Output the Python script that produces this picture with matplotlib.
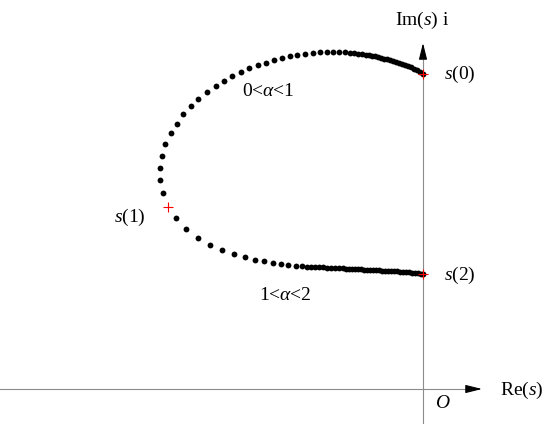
import matplotlib
matplotlib.use("Agg")
import matplotlib.pyplot as plt

plt.rcParams["font.family"] = ["Liberation Serif", "DejaVu Serif"]
plt.rcParams["mathtext.fontset"] = "custom"
plt.rcParams["mathtext.rm"] = "Liberation Serif"
plt.rcParams["mathtext.it"] = "Liberation Serif:italic"

# root locus, branch 0<alpha<1 (from s(0) towards s(1))
upper_re = [0.00, -0.03, -0.06, -0.09, -0.12, -0.15, -0.18, -0.21, -0.24, -0.27,
            -0.30, -0.33, -0.36, -0.39, -0.42, -0.45, -0.48, -0.51, -0.54, -0.57,
            -0.61, -0.65, -0.69, -0.73, -0.78, -0.84, -0.90, -0.96, -1.03, -1.105,
            -1.18, -1.26, -1.335, -1.41, -1.49, -1.573, -1.653, -1.737, -1.823, -1.907,
            -1.99, -2.067, -2.163, -2.247, -2.32, -2.403, -2.463, -2.523, -2.577, -2.61,
            -2.63, -2.63, -2.60]
upper_im = [3.155, 3.175, 3.19, 3.205, 3.22, 3.23, 3.24, 3.25, 3.26, 3.27,
            3.28, 3.29, 3.30, 3.305, 3.315, 3.32, 3.33, 3.335, 3.34, 3.345,
            3.35, 3.355, 3.36, 3.365, 3.37, 3.372, 3.372, 3.372, 3.37, 3.362,
            3.355, 3.34, 3.33, 3.315, 3.295, 3.265, 3.245, 3.207, 3.167, 3.133,
            3.083, 3.03, 2.973, 2.90, 2.83, 2.747, 2.653, 2.56, 2.45, 2.333,
            2.21, 2.09, 1.963]

# branch 1<alpha<2 (from s(1) towards s(2))
lower_re = [-2.467, -2.37, -2.247, -2.133, -2.01, -1.893, -1.78, -1.677, -1.587, -1.50,
            -1.42, -1.347, -1.273, -1.207, -1.163, -1.12, -1.077, -1.037, -0.997, -0.957,
            -0.917, -0.877, -0.837, -0.80, -0.77, -0.74, -0.71, -0.68, -0.65, -0.62,
            -0.59, -0.56, -0.53, -0.50, -0.47, -0.44, -0.41, -0.38, -0.35, -0.32,
            -0.29, -0.26, -0.23, -0.20, -0.17, -0.14, -0.11, -0.08, -0.05, -0.02, 0.00]
lower_im = [1.713, 1.597, 1.513, 1.443, 1.39, 1.35, 1.317, 1.287, 1.277, 1.26,
            1.247, 1.237, 1.23, 1.227, 1.225, 1.223, 1.22, 1.218, 1.216, 1.214,
            1.212, 1.21, 1.208, 1.206, 1.204, 1.202, 1.200, 1.199, 1.198, 1.196,
            1.194, 1.193, 1.192, 1.190, 1.188, 1.186, 1.185, 1.183, 1.182, 1.180,
            1.179, 1.177, 1.175, 1.173, 1.171, 1.168, 1.165, 1.162, 1.158, 1.154, 1.150]

# special points s(0), s(1), s(2)
mark_re = [0.0, -2.547, 0.0]
mark_im = [3.155, 1.817, 1.15]
mark_labels = ["$s$(0)", "$s$(1)", "$s$(2)"]
label_pos = [(0.21, 3.15), (-3.09, 1.72), (0.21, 1.14)]

fig = plt.figure(figsize=(5.5, 4.33), dpi=100)
ax = fig.add_axes([0, 0, 1, 1])
ax.set_xlim(-4.23, 1.27)
ax.set_ylim(-0.44, 3.89)
ax.axis("off")

# coordinate axes
axis_col = "#8c8c8c"
ax.plot([-4.23, 0.45], [0, 0], color=axis_col, lw=0.8, zorder=1)
ax.plot([0, 0], [-0.34, 3.32], color=axis_col, lw=0.8, zorder=1)
arrow = dict(arrowstyle="-|>,head_length=1.0,head_width=0.25", color="black",
             mutation_scale=10, shrinkA=0, shrinkB=0, lw=0.8)
ax.annotate("", xy=(0.59, 0), xytext=(0.44, 0), arrowprops=arrow)
ax.annotate("", xy=(0, 3.46), xytext=(0, 3.31), arrowprops=arrow)

ax.plot(upper_re, upper_im, "o", color="black", ms=4.2, mec="none", zorder=3)
ax.plot(lower_re, lower_im, "o", color="black", ms=4.2, mec="none", zorder=3)
ax.plot(mark_re, mark_im, "+", color="red", ms=7, mew=0.8, zorder=4)

fs = 14
for lab, (x, y) in zip(mark_labels, label_pos):
    ax.text(x, y, lab, fontsize=fs, ha="left", va="center")
ax.text(-0.28, 3.69, "Im($s$) i", fontsize=fs, ha="left", va="center")
ax.text(0.77, -0.01, "Re($s$)", fontsize=fs, ha="left", va="center")
ax.text(0.12, -0.14, "$O$", fontsize=fs, ha="left", va="center")
ax.text(-1.81, 2.97, r"0<$\alpha$<1", fontsize=fs, ha="left", va="center")
ax.text(-1.64, 0.94, r"1<$\alpha$<2", fontsize=fs, ha="left", va="center")

fig.savefig("out.png", dpi=100)
